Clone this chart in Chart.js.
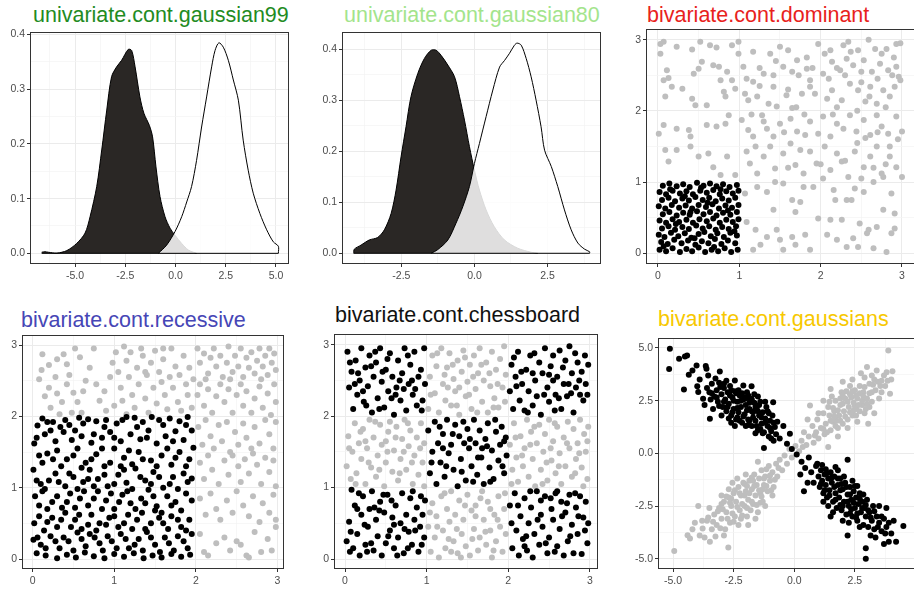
<!DOCTYPE html>
<html>
<head>
<meta charset="utf-8">
<script src="https://cdn.jsdelivr.net/npm/chart.js@4.4.1/dist/chart.umd.min.js"></script>
<style>
  body { margin: 0; width: 914px; height: 589px; overflow: hidden; background: #fff; position: relative;
         font-family: "Liberation Sans", Arial, sans-serif; }
  .title { position: absolute; font-size: 21.5px; line-height: 24px; white-space: nowrap; }
  canvas { position: absolute; }
</style>
</head>
<body>
<div class="title" style="left:33px;top:3px;color:#228b22">univariate.cont.gaussian99</div>
<div class="title" style="left:344px;top:3px;color:#a3e48c">univariate.cont.gaussian80</div>
<div class="title" style="left:647px;top:3px;color:#e8221c">bivariate.cont.dominant</div>
<div class="title" style="left:21px;top:308px;color:#4646b6">bivariate.cont.recessive</div>
<div class="title" style="left:335px;top:303px;color:#111">bivariate.cont.chessboard</div>
<div class="title" style="left:658px;top:307px;color:#f7c800">bivariate.cont.gaussians</div>
<script>
// ── Density curves (x, density) ──────────────────────────────
const g99BlackX = [-6.66,-6.5,-6.33,-5.9,-5.41,-4.92,-4.5,-4.25,-3.92,-3.67,-3.42,-3.18,-2.93,-2.68,-2.35,-2.18,-2.01,-1.77,-1.57,-1.3,-1.14,-0.97,-0.77,-0.52,-0.27,-0.02,0.31,0.64,0.89,1.05];
const g99BlackY = [0.002,0.003,0.002,0.0005,0.005,0.018,0.037,0.067,0.122,0.189,0.262,0.323,0.341,0.353,0.373,0.371,0.341,0.286,0.256,0.234,0.213,0.158,0.104,0.067,0.046,0.033,0.018,0.006,0.002,0];
const g99WhiteX = [-0.85,-0.44,-0.02,0.31,0.56,0.8,1.05,1.3,1.55,1.8,1.97,2.16,2.38,2.63,2.88,3.13,3.37,3.62,3.87,4.2,4.54,4.87,5.12,5.12];
const g99WhiteY = [0,0.015,0.04,0.067,0.094,0.122,0.17,0.231,0.286,0.341,0.371,0.385,0.377,0.353,0.317,0.28,0.207,0.152,0.11,0.073,0.043,0.021,0.013,0];

const g80BlackX = [-4.13,-4.11,-3.88,-3.6,-3.31,-3.08,-2.85,-2.68,-2.51,-2.34,-2.17,-1.94,-1.71,-1.48,-1.31,-1.14,-0.91,-0.68,-0.51,-0.34,-0.17,0,0.17,0.4,0.68,1.03,1.48,1.94,2.17];
const g80BlackY = [0,0.008,0.016,0.026,0.031,0.046,0.078,0.124,0.189,0.248,0.307,0.352,0.382,0.398,0.398,0.388,0.369,0.346,0.307,0.261,0.209,0.163,0.124,0.085,0.052,0.026,0.01,0.002,0];
const g80WhiteX = [-1.48,-1.26,-0.91,-0.63,-0.4,-0.17,0,0.17,0.4,0.63,0.86,1.03,1.2,1.37,1.46,1.6,1.77,1.94,2.11,2.28,2.4,2.63,2.85,3.08,3.31,3.54,3.77,3.94,3.94];
const g80WhiteY = [0,0.007,0.026,0.059,0.091,0.131,0.176,0.215,0.268,0.32,0.365,0.378,0.392,0.408,0.412,0.408,0.382,0.346,0.3,0.248,0.202,0.17,0.131,0.085,0.046,0.02,0.008,0.003,0];

// ── Scatter points, flat x,y pairs ───────────────────────────
const domBlack = [
  0.02,0.05, 0.1,0.03, 0.18,0.07, 0.27,0.02, 0.35,0.06, 0.42,0.03, 0.5,0.08, 0.58,0.02, 0.66,0.05, 0.74,0.03, 0.82,0.07, 0.9,0.02, 0.98,0.05,
  0.04,0.16, 0.12,0.13, 0.2,0.19, 0.29,0.14, 0.37,0.18, 0.46,0.12, 0.54,0.17, 0.62,0.14, 0.7,0.2, 0.78,0.13, 0.86,0.18, 0.95,0.14,
  0.01,0.26, 0.08,0.23, 0.16,0.29, 0.25,0.24, 0.33,0.28, 0.41,0.22, 0.5,0.27, 0.57,0.3, 0.65,0.24, 0.73,0.28, 0.81,0.23, 0.89,0.29, 0.97,0.25,
  0.05,0.35, 0.13,0.38, 0.21,0.33, 0.3,0.37, 0.38,0.34, 0.47,0.39, 0.55,0.35, 0.63,0.38, 0.71,0.33, 0.79,0.37, 0.87,0.34, 0.96,0.38,
  0.02,0.46, 0.1,0.43, 0.18,0.48, 0.26,0.44, 0.35,0.47, 0.43,0.43, 0.51,0.48, 0.6,0.45, 0.68,0.49, 0.76,0.43, 0.84,0.47, 0.92,0.44, 0.99,0.48,
  0.06,0.55, 0.14,0.58, 0.23,0.53, 0.31,0.57, 0.39,0.54, 0.48,0.59, 0.56,0.55, 0.64,0.58, 0.72,0.53, 0.8,0.57, 0.89,0.54, 0.97,0.58,
  0.01,0.66, 0.09,0.63, 0.17,0.68, 0.26,0.64, 0.34,0.67, 0.42,0.63, 0.5,0.68, 0.59,0.65, 0.67,0.69, 0.75,0.63, 0.83,0.67, 0.91,0.64, 0.99,0.68,
  0.05,0.75, 0.13,0.78, 0.21,0.73, 0.3,0.77, 0.38,0.74, 0.46,0.79, 0.55,0.75, 0.63,0.78, 0.71,0.73, 0.79,0.77, 0.87,0.74, 0.95,0.78,
  0.02,0.86, 0.1,0.83, 0.18,0.88, 0.27,0.84, 0.35,0.87, 0.43,0.83, 0.52,0.88, 0.6,0.85, 0.68,0.89, 0.76,0.83, 0.84,0.87, 0.92,0.84, 0.99,0.88,
  0.06,0.95, 0.14,0.98, 0.23,0.94, 0.31,0.97, 0.39,0.93, 0.48,0.99, 0.56,0.95, 0.64,0.98, 0.72,0.94, 0.8,0.97, 0.88,0.93, 0.97,0.96,
  0.07,0.1, 0.22,0.41, 0.45,0.21, 0.61,0.71, 0.86,0.6, 0.33,0.8, 0.15,0.9, 0.53,0.92, 0.94,0.31, 0.69,0.09, 0.4,0.58, 0.77,0.9
];
const domGrey = [
  0.03,2.8, 0.03,2.94, 0.07,2.97, 0.23,2.9, 0.42,2.86, 0.52,2.97, 0.64,2.92, 0.72,2.89, 0.91,2.92, 0.99,2.97, 0.99,2.8, 1.17,2.83, 1.38,2.8, 1.5,2.9, 1.6,2.85, 1.71,2.71, 1.83,2.75, 1.97,2.94, 2.12,2.85, 2.28,2.92, 2.34,2.97, 2.46,2.85, 2.59,3.0, 2.67,2.87, 2.81,2.87, 2.93,2.94, 2.98,2.95,
  0.11,2.57, 0.13,2.46, 0.07,2.43, 0.17,2.34, 0.3,2.31, 0.44,2.52, 0.5,2.59, 0.54,2.69, 0.68,2.64, 0.75,2.62, 0.77,2.43, 0.91,2.43, 0.95,2.31, 1.05,2.62, 1.09,2.45, 1.17,2.41, 1.3,2.52, 1.42,2.5, 1.54,2.62, 1.65,2.55, 1.73,2.5, 1.83,2.59, 1.87,2.43, 2.03,2.52, 2.14,2.69, 2.24,2.57, 2.32,2.73, 2.4,2.64, 2.53,2.71, 2.63,2.55, 2.73,2.66, 2.83,2.57, 2.93,2.62, 2.96,2.48,
  0.09,2.2, 0.42,2.17, 0.46,2.08, 0.6,2.08, 0.81,2.27, 0.83,2.2, 1.07,2.24, 1.11,2.15, 1.22,2.2, 1.36,2.1, 1.42,2.34, 1.46,2.06, 1.58,2.22, 1.65,2.04, 1.77,2.24, 1.87,2.34, 1.93,2.24, 2.08,2.17, 2.14,2.29, 2.26,2.15, 2.36,2.38, 2.46,2.29, 2.55,2.13, 2.61,2.34, 2.69,2.1, 2.77,2.29, 2.85,2.2, 2.91,2.34, 2.98,2.43,
  0.01,1.68, 0.07,1.8, 0.23,1.75, 0.38,1.73, 0.4,1.64, 0.6,1.8, 0.72,1.78, 0.83,1.82, 0.87,1.94, 1.03,1.87, 1.11,1.73, 1.17,1.64, 1.28,1.94, 1.34,1.75, 1.42,1.64, 1.5,1.82, 1.63,1.89, 1.71,1.71, 1.81,1.66, 1.87,1.85, 1.97,1.68, 2.03,1.92, 2.12,1.64, 2.2,1.82, 2.28,1.75, 2.36,1.94, 2.44,1.71, 2.53,1.87, 2.61,1.66, 2.69,1.94, 2.75,1.78, 2.83,1.68, 2.93,1.92, 3.0,1.71,
  0.09,1.45, 0.13,1.29, 0.23,1.45, 0.4,1.5, 0.5,1.36, 0.62,1.4, 0.68,1.21, 0.85,1.36, 0.77,1.1, 0.95,1.1, 1.09,1.43, 1.13,1.26, 1.22,1.12, 1.3,1.36, 1.38,1.5, 1.44,1.19, 1.54,1.4, 1.63,1.54, 1.69,1.24, 1.79,1.12, 1.87,1.43, 1.95,1.26, 2.05,1.5, 2.12,1.17, 2.2,1.4, 2.26,1.29, 2.34,1.07, 2.42,1.43, 2.53,1.21, 2.61,1.36, 2.69,1.5, 2.75,1.12, 2.85,1.36, 2.93,1.21, 3.0,1.07,
  1.07,0.84, 1.22,0.93, 1.34,0.86, 1.44,1.0, 1.54,0.98, 1.65,0.75, 1.79,0.93, 1.91,0.93, 2.03,1.05, 2.16,0.89, 2.32,0.75, 2.42,0.91, 2.53,0.86, 2.65,1.0, 2.77,1.07, 2.87,0.84, 1.42,0.61, 1.69,0.58, 1.75,0.72, 2.18,0.75, 2.38,0.75, 2.77,0.61, 2.91,0.56,
  1.09,0.44, 1.2,0.33, 1.34,0.23, 1.46,0.33, 1.5,0.19, 1.54,0.05, 1.65,0.23, 1.69,0.12, 1.81,0.26, 1.87,0.05, 1.97,0.49, 2.08,0.26, 2.12,0.47, 2.2,0.19, 2.26,0.47, 2.32,0.09, 2.4,0.21, 2.46,0.09, 2.48,0.42, 2.57,0.28, 2.59,0.33, 2.65,0.07, 2.69,0.37, 2.81,0.02, 2.87,0.28, 2.91,0.35, 1.17,0.05, 1.26,0.12,
  2.1,2.45, 2.2,2.05, 2.3,2.5, 2.45,2.0, 2.5,2.4, 2.6,2.2, 2.7,2.45, 2.8,2.05, 2.88,2.5, 2.15,1.95, 2.45,1.55, 2.55,1.62, 2.7,1.7, 2.85,1.5, 2.95,1.6, 2.0,1.25, 2.3,1.3, 2.5,1.05, 2.65,1.2, 2.8,1.25,
  1.6,2.3, 1.7,2.05, 1.8,1.95, 1.55,1.7, 1.25,2.35, 1.3,1.85, 1.2,1.5, 1.15,1.95, 1.6,1.2, 1.75,1.45, 1.9,2.6, 2.05,2.8, 2.2,2.6, 2.37,2.83, 2.5,2.55, 2.75,2.8, 2.9,2.75, 1.45,2.7, 1.25,2.6, 0.85,2.55
];

const recBlack = [
  0.06,1.87, 0.12,1.97, 0.25,1.92, 0.34,1.85, 0.45,1.88, 0.57,1.98, 0.68,1.96, 0.78,1.93, 0.9,1.95, 1.03,1.9, 1.15,1.99, 1.25,1.98, 1.35,1.92, 1.46,1.99, 1.55,1.95, 1.68,1.97, 1.8,1.93, 1.9,1.99,
  0.02,1.62, 0.15,1.75, 0.22,1.8, 0.38,1.78, 0.48,1.67, 0.6,1.72, 0.72,1.63, 0.85,1.7, 0.95,1.78, 1.08,1.65, 1.2,1.75, 1.32,1.68, 1.42,1.8, 1.52,1.62, 1.63,1.72, 1.75,1.79, 1.85,1.67, 1.95,1.8,
  0.08,1.45, 0.18,1.48, 0.3,1.52, 0.42,1.4, 0.55,1.55, 0.65,1.35, 0.78,1.47, 0.88,1.3, 1.0,1.55, 1.12,1.42, 1.22,1.33, 1.3,1.5, 1.45,1.38, 1.58,1.45, 1.7,1.32, 1.8,1.5, 1.92,1.4, 1.97,1.56,
  0.01,1.25, 0.1,1.05, 0.2,1.1, 0.28,1.2, 0.4,1.02, 0.5,1.15, 0.62,1.08, 0.7,1.25, 0.8,1.12, 0.92,1.02, 1.05,1.18, 1.15,1.07, 1.26,1.27, 1.38,1.1, 1.48,1.22, 1.6,1.0, 1.72,1.15, 1.85,1.2, 1.95,1.13,
  0.03,0.88, 0.12,0.95, 0.24,0.8, 0.36,0.72, 0.46,0.92, 0.58,0.85, 0.68,0.75, 0.8,0.95, 0.9,0.82, 1.0,0.7, 1.1,0.9, 1.2,0.78, 1.33,0.85, 1.42,0.97, 1.52,0.74, 1.65,0.88, 1.75,0.8, 1.88,0.92,
  0.08,0.6, 0.18,0.52, 0.3,0.45, 0.4,0.65, 0.52,0.55, 0.6,0.42, 0.72,0.62, 0.82,0.5, 0.94,0.58, 1.05,0.45, 1.17,0.62, 1.28,0.55, 1.38,0.42, 1.5,0.68, 1.6,0.5, 1.7,0.6, 1.82,0.45, 1.92,0.55,
  0.01,0.27, 0.1,0.2, 0.22,0.32, 0.33,0.15, 0.44,0.25, 0.55,0.37, 0.65,0.18, 0.76,0.3, 0.86,0.12, 0.97,0.25, 1.08,0.35, 1.18,0.15, 1.3,0.28, 1.4,0.38, 1.5,0.2, 1.62,0.3, 1.73,0.12, 1.85,0.25, 1.95,0.35,
  0.05,0.08, 0.16,0.05, 0.3,0.01, 0.42,0.06, 0.53,0.02, 0.64,0.09, 0.75,0.04, 0.88,0.01, 1.0,0.07, 1.12,0.03, 1.24,0.08, 1.36,0.01, 1.47,0.05, 1.58,0.02, 1.7,0.07, 1.82,0.03, 1.93,0.06,
  0.05,1.7, 0.18,1.92, 0.28,1.65, 0.4,1.95, 0.52,1.8, 0.62,1.9, 0.75,1.75, 0.88,1.85, 1.0,1.7, 1.1,1.95, 1.28,1.85, 1.4,1.7, 1.6,1.88, 1.72,1.65, 1.88,1.88,
  0.12,1.35, 0.25,1.4, 0.35,1.3, 0.5,1.45, 0.6,1.28, 0.72,1.4, 0.85,1.55, 0.95,1.35, 1.08,1.3, 1.18,1.52, 1.35,1.4, 1.52,1.3, 1.65,1.55, 1.75,1.42, 1.88,1.3,
  0.05,1.1, 0.15,0.98, 0.32,1.08, 0.45,1.2, 0.55,0.98, 0.68,1.12, 0.75,1.02, 0.88,1.18, 1.0,1.05, 1.12,1.25, 1.22,0.98, 1.32,1.15, 1.45,1.05, 1.55,1.15, 1.68,1.05, 1.78,0.98, 1.9,1.08,
  0.08,0.75, 0.18,0.7, 0.3,0.88, 0.42,0.8, 0.52,0.72, 0.63,0.95, 0.75,0.85, 0.85,0.7, 0.96,0.92, 1.06,0.8, 1.16,0.95, 1.26,0.7, 1.38,0.78, 1.48,0.88, 1.58,0.65, 1.7,0.75, 1.82,0.68, 1.95,0.82,
  0.02,0.5, 0.14,0.4, 0.24,0.58, 0.35,0.55, 0.47,0.45, 0.57,0.62, 0.68,0.48, 0.78,0.4, 0.9,0.48, 1.0,0.6, 1.12,0.5, 1.22,0.42, 1.34,0.65, 1.45,0.5, 1.55,0.58, 1.66,0.42, 1.78,0.55, 1.88,0.4,
  0.06,0.3, 0.16,0.15, 0.28,0.25, 0.38,0.3, 0.5,0.12, 0.6,0.28, 0.7,0.35, 0.82,0.22, 0.92,0.32, 1.03,0.15, 1.14,0.28, 1.25,0.2, 1.35,0.12, 1.45,0.3, 1.56,0.1, 1.67,0.22, 1.78,0.32, 1.9,0.15
];
const recGrey = [
  0.12,2.87, 0.11,2.65, 0.2,2.72, 0.28,2.55, 0.3,2.8, 0.38,2.87, 0.42,2.73, 0.45,2.58, 0.52,2.95, 0.58,2.83, 0.2,2.4, 0.15,2.28, 0.22,2.12, 0.3,2.32, 0.36,2.2, 0.42,2.45, 0.5,2.33, 0.55,2.2, 0.6,2.05, 0.65,2.5,
  0.7,2.68, 0.75,2.95, 0.78,2.45, 0.82,2.22, 0.88,2.35, 0.9,2.08, 0.95,2.55, 0.98,2.75, 1.02,2.9, 1.05,2.62, 1.08,2.4, 1.1,2.22, 1.12,2.98, 1.15,2.78, 1.18,2.55, 1.2,2.9, 1.22,2.3, 1.25,2.12, 1.28,2.68, 1.3,2.45,
  1.33,2.95, 1.35,2.85, 1.38,2.25, 1.4,2.58, 1.42,2.05, 1.45,2.75, 1.48,2.4, 1.5,2.92, 1.52,2.18, 1.55,2.62, 1.58,2.48, 1.6,2.8, 1.62,2.3, 1.65,2.1, 1.68,2.55, 1.7,2.95, 1.72,2.4, 1.75,2.7, 1.78,2.2, 1.8,2.58,
  1.82,2.08, 1.85,2.85, 1.88,2.45, 1.9,2.3, 1.92,2.68, 1.95,2.12, 1.97,2.52, 0.62,2.35, 0.48,2.05, 0.33,2.03, 0.08,2.52, 1.0,2.15, 1.6,2.95, 1.15,2.03, 1.38,2.62,
  2.02,2.95, 2.05,2.75, 2.1,2.88, 2.15,2.6, 2.18,2.82, 2.22,2.95, 2.25,2.7, 2.3,2.85, 2.33,2.55, 2.38,2.75, 2.4,2.98, 2.45,2.62, 2.48,2.85, 2.52,2.7, 2.55,2.95, 2.58,2.55, 2.62,2.82, 2.65,2.68, 2.68,2.9, 2.72,2.6,
  2.75,2.78, 2.78,2.95, 2.82,2.7, 2.85,2.85, 2.88,2.58, 2.9,2.95, 2.93,2.75, 2.96,2.88, 2.98,2.65, 2.12,2.52, 2.42,2.52, 2.8,2.52,
  2.02,2.3, 2.05,2.45, 2.1,2.15, 2.15,2.38, 2.2,2.05, 2.25,2.28, 2.3,2.45, 2.35,2.2, 2.4,2.38, 2.45,2.05, 2.5,2.3, 2.55,2.45, 2.58,2.15, 2.62,2.35, 2.68,2.05, 2.72,2.25, 2.78,2.42, 2.82,2.12, 2.88,2.32, 2.92,2.02, 2.96,2.45, 2.98,2.2,
  2.03,1.85, 2.08,1.6, 2.12,1.95, 2.18,1.72, 2.22,1.55, 2.28,1.88, 2.32,1.65, 2.38,1.92, 2.42,1.5, 2.48,1.78, 2.52,1.6, 2.58,1.9, 2.62,1.7, 2.68,1.55, 2.72,1.85, 2.78,1.62, 2.85,1.95, 2.9,1.75, 2.95,1.55, 2.98,1.92,
  2.05,1.35, 2.1,1.12, 2.15,1.45, 2.2,1.25, 2.28,1.05, 2.35,1.38, 2.4,1.18, 2.45,1.45, 2.52,1.3, 2.55,1.08, 2.6,1.4, 2.65,1.2, 2.7,1.48, 2.75,1.32, 2.8,1.05, 2.85,1.42, 2.9,1.22, 2.95,1.38, 2.98,1.02,
  2.05,0.85, 2.12,0.62, 2.18,0.92, 2.25,0.7, 2.3,0.55, 2.38,0.82, 2.45,0.65, 2.5,0.95, 2.58,0.75, 2.65,0.6, 2.7,0.88, 2.78,0.52, 2.82,0.78, 2.9,0.65, 2.95,0.9, 2.98,0.55,
  2.05,0.35, 2.1,0.1, 2.15,0.05, 2.25,0.22, 2.35,0.3, 2.42,0.12, 2.5,0.25, 2.55,0.2, 2.62,0.05, 2.65,0.02, 2.72,0.38, 2.8,0.1, 2.88,0.28, 2.93,0.12, 2.98,0.45
];

const chessBlack = [
  0.02,0.25, 0.05,0.52, 0.08,0.97, 0.1,0.15, 0.12,0.75, 0.15,0.35, 0.18,0.05, 0.2,0.62, 0.22,0.88, 0.25,0.2, 0.28,0.45, 0.3,0.7, 0.33,0.95, 0.35,0.12, 0.38,0.55, 0.4,0.32, 0.43,0.8, 0.45,0.05, 0.48,0.65, 0.5,0.22,
  0.52,0.9, 0.55,0.4, 0.58,0.58, 0.6,0.15, 0.62,0.75, 0.65,0.3, 0.68,0.5, 0.7,0.92, 0.72,0.08, 0.75,0.62, 0.78,0.38, 0.8,0.85, 0.82,0.2, 0.85,0.55, 0.88,0.72, 0.9,0.1, 0.92,0.45, 0.95,0.62, 0.97,0.3, 0.98,0.82, 0.15,0.7, 0.27,0.1, 0.42,0.68, 0.6,0.48, 0.86,0.4,
  0.07,0.38, 0.17,0.92, 0.24,0.48, 0.32,0.22, 0.47,0.9, 0.53,0.32, 0.64,0.05, 0.73,0.42, 0.83,0.95, 0.94,0.2, 0.36,0.72, 0.57,0.82, 0.77,0.15, 0.93,0.88, 0.06,0.1,
  0.03,2.9, 0.05,2.4, 0.08,2.62, 0.1,2.1, 0.13,2.78, 0.15,2.3, 0.18,2.5, 0.2,2.95, 0.23,2.2, 0.25,2.68, 0.28,2.42, 0.3,2.85, 0.33,2.05, 0.35,2.55, 0.38,2.75, 0.4,2.25, 0.43,2.95, 0.45,2.48, 0.48,2.12, 0.5,2.65,
  0.53,2.35, 0.55,2.88, 0.58,2.55, 0.6,2.02, 0.63,2.4, 0.65,2.78, 0.68,2.22, 0.7,2.6, 0.73,2.95, 0.75,2.08, 0.78,2.45, 0.8,2.72, 0.83,2.3, 0.85,2.9, 0.88,2.15, 0.9,2.55, 0.93,2.65, 0.95,2.22, 0.97,2.95, 0.12,2.45, 0.37,2.9, 0.62,2.3, 0.82,2.5,
  0.06,2.75, 0.16,2.6, 0.22,2.35, 0.32,2.7, 0.42,2.1, 0.52,2.8, 0.57,2.25, 0.67,2.5, 0.77,2.85, 0.86,2.38, 0.94,2.08, 0.26,2.15, 0.46,2.62, 0.72,2.38, 0.98,2.45,
  1.02,1.8, 1.04,1.2, 1.07,1.5, 1.1,1.92, 1.12,1.05, 1.14,1.62, 1.17,1.35, 1.2,1.75, 1.22,1.15, 1.25,1.95, 1.27,1.48, 1.3,1.6, 1.33,1.25, 1.35,1.88, 1.38,1.02, 1.4,1.72, 1.42,1.4, 1.45,1.92, 1.48,1.1, 1.52,1.55,
  1.55,1.3, 1.58,1.95, 1.6,1.62, 1.62,1.18, 1.65,1.8, 1.67,1.42, 1.7,1.05, 1.72,1.68, 1.75,1.9, 1.77,1.28, 1.8,1.52, 1.82,1.12, 1.85,1.78, 1.88,1.38, 1.9,1.6, 1.92,1.85, 1.95,1.2, 1.97,1.7, 1.98,1.45, 1.5,1.82, 1.68,1.55,
  1.06,1.35, 1.16,1.85, 1.24,1.3, 1.32,1.75, 1.43,1.22, 1.53,1.68, 1.57,1.08, 1.63,1.42, 1.74,1.58, 1.84,1.95, 1.93,1.3, 1.2,1.55, 1.46,1.62, 1.78,1.08, 1.95,1.65,
  2.02,0.75, 2.05,0.15, 2.08,0.92, 2.1,0.4, 2.13,0.05, 2.15,0.6, 2.18,0.28, 2.2,0.85, 2.23,0.12, 2.25,0.5, 2.28,0.72, 2.3,0.02, 2.32,0.35, 2.35,0.95, 2.38,0.2, 2.4,0.62, 2.42,0.45, 2.45,0.88, 2.48,0.08, 2.5,0.3,
  2.53,0.7, 2.55,0.55, 2.58,0.92, 2.6,0.18, 2.63,0.42, 2.65,0.8, 2.68,0.05, 2.7,0.65, 2.73,0.25, 2.75,0.9, 2.78,0.48, 2.8,0.08, 2.83,0.72, 2.85,0.35, 2.88,0.88, 2.9,0.07, 2.92,0.58, 2.95,0.8, 2.97,0.22, 2.98,0.5, 2.4,0.82, 2.6,0.95,
  2.04,0.5, 2.12,0.75, 2.22,0.32, 2.27,0.95, 2.36,0.55, 2.46,0.22, 2.52,0.85, 2.57,0.1, 2.66,0.6, 2.76,0.32, 2.82,0.92, 2.86,0.6, 2.94,0.4, 2.2,0.18, 2.72,0.78,
  2.02,2.35, 2.04,2.72, 2.06,2.1, 2.09,2.55, 2.12,2.9, 2.14,2.22, 2.17,2.45, 2.2,2.08, 2.22,2.65, 2.25,2.35, 2.27,2.85, 2.3,2.15, 2.33,2.5, 2.35,2.28, 2.38,2.75, 2.4,2.02, 2.42,2.6, 2.45,2.95, 2.48,2.4, 2.5,2.2,
  2.52,2.7, 2.55,2.85, 2.58,2.3, 2.6,2.55, 2.63,2.92, 2.65,2.1, 2.68,2.45, 2.7,2.78, 2.72,2.28, 2.75,2.98, 2.78,2.6, 2.8,2.05, 2.83,2.4, 2.85,2.75, 2.88,2.3, 2.9,2.62, 2.92,2.22, 2.95,2.45, 2.97,2.3, 2.98,2.72, 2.55,2.5, 2.3,2.6,
  2.07,2.82, 2.16,2.62, 2.24,2.05, 2.32,2.88, 2.44,2.3, 2.5,2.58, 2.62,2.25, 2.67,2.68, 2.74,2.45, 2.82,2.88, 2.87,2.5, 2.94,2.85, 2.1,2.42, 2.57,2.08, 2.77,2.32
];
const chessGrey = [
  1.02,0.45, 1.05,0.1, 1.07,0.78, 1.1,0.3, 1.12,0.6, 1.15,0.02, 1.18,0.88, 1.2,0.4, 1.23,0.15, 1.25,0.7, 1.28,0.52, 1.3,0.95, 1.33,0.25, 1.35,0.62, 1.38,0.08, 1.4,0.82, 1.43,0.35, 1.45,0.55, 1.48,0.18, 1.5,0.9,
  1.53,0.05, 1.55,0.68, 1.58,0.42, 1.6,0.75, 1.63,0.12, 1.65,0.3, 1.68,0.95, 1.7,0.55, 1.73,0.2, 1.75,0.8, 1.78,0.4, 1.8,0.02, 1.83,0.62, 1.85,0.25, 1.88,0.88, 1.9,0.45, 1.93,0.1, 1.95,0.7, 1.97,0.35, 1.6,0.6,
  1.04,0.65, 1.13,0.45, 1.22,0.92, 1.3,0.1, 1.37,0.42, 1.47,0.75, 1.56,0.28, 1.66,0.85, 1.72,0.38, 1.82,0.12, 1.87,0.55, 1.96,0.92, 1.42,0.02, 1.78,0.7, 1.27,0.28,
  0.02,1.3, 0.04,1.72, 0.07,1.12, 0.09,1.5, 0.12,1.9, 0.14,1.2, 0.17,1.62, 0.2,1.4, 0.22,1.82, 0.25,1.05, 0.27,1.55, 0.3,1.95, 0.32,1.28, 0.35,1.7, 0.38,1.15, 0.4,1.45, 0.43,1.88, 0.45,1.6, 0.48,1.02, 0.5,1.35,
  0.53,1.78, 0.55,1.92, 0.58,1.22, 0.6,1.52, 0.63,1.85, 0.65,1.1, 0.68,1.4, 0.7,1.68, 0.73,1.95, 0.75,1.25, 0.78,1.58, 0.8,1.8, 0.83,1.05, 0.85,1.45, 0.88,1.7, 0.9,1.18, 0.93,1.9, 0.95,1.35, 0.97,1.62, 0.5,1.65,
  0.05,1.55, 0.13,1.05, 0.19,1.78, 0.29,1.35, 0.37,1.92, 0.42,1.25, 0.52,1.5, 0.62,1.7, 0.67,1.2, 0.77,1.9, 0.82,1.35, 0.92,1.55, 0.97,1.02, 0.25,1.65, 0.72,1.5,
  2.02,1.6, 2.05,1.25, 2.07,1.9, 2.1,1.42, 2.12,1.08, 2.15,1.72, 2.18,1.3, 2.2,1.55, 2.23,1.95, 2.25,1.15, 2.28,1.78, 2.3,1.4, 2.33,1.02, 2.35,1.62, 2.38,1.88, 2.4,1.25, 2.43,1.5, 2.45,1.75, 2.48,1.1, 2.5,1.95,
  2.53,1.38, 2.55,1.65, 2.58,1.2, 2.6,1.85, 2.63,1.48, 2.65,1.05, 2.68,1.7, 2.7,1.3, 2.73,1.92, 2.75,1.55, 2.78,1.15, 2.8,1.82, 2.83,1.4, 2.85,1.62, 2.88,1.95, 2.9,1.28, 2.93,1.75, 2.95,1.5, 2.97,1.12, 2.98,1.85,
  2.04,1.05, 2.09,1.7, 2.17,1.45, 2.27,1.6, 2.32,1.85, 2.42,1.05, 2.52,1.55, 2.57,1.9, 2.62,1.3, 2.72,1.62, 2.82,1.2, 2.87,1.48, 2.92,1.02, 2.97,1.65, 2.47,1.35,
  1.02,2.1, 1.04,2.55, 1.07,2.85, 1.1,2.32, 1.12,2.7, 1.15,2.05, 1.18,2.95, 1.2,2.45, 1.23,2.22, 1.25,2.68, 1.28,2.88, 1.3,2.15, 1.33,2.52, 1.35,2.35, 1.38,2.78, 1.4,2.02, 1.43,2.62, 1.45,2.92, 1.48,2.28, 1.5,2.48,
  1.53,2.72, 1.55,2.1, 1.58,2.85, 1.6,2.38, 1.63,2.6, 1.65,2.95, 1.68,2.2, 1.7,2.5, 1.73,2.75, 1.75,2.05, 1.78,2.42, 1.8,2.9, 1.83,2.25, 1.85,2.65, 1.88,2.12, 1.9,2.8, 1.93,2.4, 1.95,2.98, 1.97,2.58, 1.4,2.4,
  1.05,2.3, 1.13,2.88, 1.22,2.58, 1.32,2.72, 1.37,2.15, 1.47,2.82, 1.52,2.3, 1.62,2.05, 1.67,2.72, 1.77,2.6, 1.82,2.12, 1.87,2.45, 1.96,2.2, 1.57,2.55, 1.26,2.4
];

const gaussBlack = [
  -5.13,4.96, -5.16,4.0, -4.75,4.49, -4.51,4.6, -4.42,4.64, -4.55,3.03, -4.35,3.73, -4.2,3.93, -4.03,4.17, -3.65,4.14, -3.62,4.01, -4.0,3.19, -3.96,2.91, -3.76,2.59, -3.48,1.64, -3.07,3.89, -2.45,3.46, -2.1,3.22, -1.76,3.19, -0.87,2.43,
  -1.25,0.25, -0.18,0.93, -0.45,1.3, -0.6,0.7, -0.3,0.45, -0.1,0.2, 0.1,-0.05,
  -3.6,3.1, -3.5,2.9, -3.4,3.3, -3.3,2.7, -3.2,3.0, -3.15,2.45, -3.1,3.35, -3.0,2.8, -2.95,2.2, -2.9,3.1, -2.85,2.55, -2.8,2.0, -2.75,2.9, -2.7,2.35, -2.65,3.2, -2.6,1.8, -2.55,2.65, -2.5,2.1, -2.45,2.95, -2.4,1.6,
  -2.35,2.45, -2.3,1.95, -2.25,2.75, -2.2,2.2, -2.15,1.45, -2.1,2.55, -2.05,1.85, -2.0,2.3, -1.95,2.9, -1.9,1.6, -1.85,2.1, -1.8,2.6, -1.75,1.3, -1.7,1.95, -1.65,2.4, -1.6,1.55, -1.55,2.15, -1.5,1.1, -1.45,1.8, -1.4,2.45,
  -1.35,1.4, -1.3,1.95, -1.25,1.0, -1.2,1.65, -1.15,2.2, -1.1,1.3, -1.05,0.8, -1.0,1.55, -0.95,1.05, -0.9,1.8, -0.85,0.6, -0.8,1.25, -0.75,0.9, -0.7,1.5, -3.35,2.1, -3.0,1.8, -2.6,1.45, -2.0,1.3, -1.6,0.95, -2.8,3.45,
  -2.3,3.0, -1.9,2.75, -1.5,2.7, -1.2,2.45, -3.25,3.55, -2.7,1.65, -2.35,1.7, -1.75,2.0, -2.15,2.85, -2.5,2.5, -1.85,1.55, -1.4,1.15, -1.05,1.9, -3.7,2.3, -3.9,3.5, -3.55,3.7,
  -3.45,2.55, -3.2,2.65, -3.05,3.15, -2.9,2.45, -2.75,2.2, -2.65,2.75, -2.55,1.95, -2.4,2.85, -2.35,2.15, -2.25,1.55, -2.2,2.5, -2.1,1.75, -2.05,2.65, -1.95,2.05, -1.9,1.35, -1.85,2.4, -1.7,1.7, -1.65,2.8,
  -1.55,1.3, -1.5,2.0, -1.45,2.3, -1.35,1.7, -1.3,0.95, -1.2,1.45, -1.1,2.0, -1.0,1.2, -0.95,0.7, -0.85,1.45, -2.6,3.0, -3.1,2.25, -2.0,2.6, -1.6,2.2, -2.45,1.3, -1.75,2.55, -2.9,3.3, -3.4,2.85,
  0.3,-0.4, 0.45,-0.7, 0.6,-0.2, 0.7,-0.9, 0.9,-0.6, 0.25,-1.0, 0.55,-1.4, 0.4,-1.8, 2.2,-0.3, 1.7,-0.65, 4.5,-3.45, 4.2,-4.2, 3.9,-4.2, 3.7,-4.3, 2.95,-4.5, 2.95,-5.0, 2.2,-3.9, 1.5,-3.0, 3.8,-2.6, 3.5,-2.5,
  1.0,-1.1, 1.05,-1.6, 1.1,-0.8, 1.15,-1.3, 1.2,-1.9, 1.25,-1.0, 1.3,-1.5, 1.35,-2.1, 1.4,-1.2, 1.45,-1.75, 1.5,-0.9, 1.55,-1.4, 1.6,-2.3, 1.65,-1.1, 1.7,-1.9, 1.75,-2.6, 1.8,-1.5, 1.85,-2.1, 1.9,-1.2, 1.95,-2.7,
  2.0,-1.7, 2.05,-2.3, 2.1,-1.4, 2.15,-2.9, 2.2,-1.95, 2.25,-2.5, 2.3,-1.6, 2.35,-2.2, 2.4,-3.0, 2.45,-1.8, 2.5,-2.6, 2.55,-2.1, 2.6,-3.2, 2.65,-2.4, 2.7,-1.9, 2.75,-2.8, 2.8,-2.3, 2.85,-3.4, 2.9,-2.6, 2.95,-3.0,
  3.0,-2.2, 3.05,-3.5, 3.1,-2.8, 3.2,-3.2, 3.25,-2.5, 3.3,-3.6, 3.4,-3.0, 3.5,-3.3, 3.6,-3.7, 3.7,-3.1, 3.8,-3.5, 4.0,-3.8, 4.1,-3.2, 1.3,-0.75, 1.8,-0.8, 2.4,-1.3, 1.2,-2.3, 1.6,-2.8, 2.0,-3.2, 2.7,-3.5,
  3.15,-3.9, 0.8,-1.4, 0.95,-0.5, 2.3,-2.85, 1.9,-2.45, 2.6,-1.55,
  1.1,-1.45, 1.25,-1.75, 1.35,-0.95, 1.45,-2.0, 1.55,-1.15, 1.65,-1.6, 1.7,-2.2, 1.8,-1.2, 1.9,-1.75, 2.0,-2.5, 2.05,-1.1, 2.15,-1.6, 2.2,-2.3, 2.3,-1.95, 2.35,-2.65, 2.45,-2.35, 2.5,-1.55, 2.6,-2.85,
  2.7,-2.15, 2.8,-2.6, 2.85,-1.95, 2.95,-2.45, 3.05,-2.7, 3.15,-3.05, 3.3,-2.75, 3.45,-3.5, 3.6,-3.0, 3.75,-3.8, 3.9,-3.3, 2.55,-3.05, 1.4,-2.5, 1.95,-1.45, 2.25,-3.3, 3.35,-4.0, 1.15,-0.55
];
const gaussGrey = [
  -4.95,-4.63, -4.4,-3.89, -4.3,-4.04, -3.96,-2.5, -3.78,-3.57, -3.48,-4.2, -2.72,-4.47, -4.1,-3.3, -3.9,-3.9, -3.7,-4.0, -3.6,-3.2, -3.4,-3.6, -3.3,-2.9, -3.2,-3.4, -3.1,-2.6, -3.0,-3.1, -2.9,-2.3, -2.85,-3.6, -2.8,-2.8, -2.7,-2.1,
  -2.65,-3.3, -2.6,-2.5, -2.5,-1.9, -2.45,-3.0, -2.4,-2.3, -2.3,-1.6, -2.25,-2.7, -2.2,-2.0, -2.1,-1.4, -2.05,-2.5, -2.0,-1.8, -1.95,-3.0, -1.9,-2.2, -1.85,-1.3, -1.8,-2.7, -1.75,-1.7, -1.7,-2.4, -1.65,-1.0, -1.6,-2.0, -1.55,-1.5,
  -1.5,-2.8, -1.45,-1.2, -1.4,-1.9, -1.35,-0.8, -1.3,-2.3, -1.25,-1.5, -1.2,-1.1, -1.1,-1.8, -1.05,-0.6, -1.0,-1.3, -0.9,-0.9, -0.85,-1.6, -0.75,-0.5, -0.7,-1.1, -0.6,-0.3, -0.5,-0.8, -0.4,-0.1, -0.3,-0.5, -0.2,0.2, -0.1,-0.2,
  0.05,0.35, -3.5,-2.6, -3.0,-2.0, -2.55,-1.4, -2.0,-1.0, -1.5,-0.4, -2.9,-3.9, -2.3,-3.4, -1.9,-3.4, -1.2,-2.5, -0.9,-2.0, -2.7,-1.7, -2.35,-1.2, -1.75,-1.15, -1.6,-3.1, -3.25,-3.95, -2.15,-2.95, -1.4,-2.35, -2.05,-1.45, -2.6,-2.15, -1.15,-0.75,
  -3.55,-3.05, -3.35,-3.25, -3.15,-2.75, -3.05,-3.55, -2.95,-2.65, -2.75,-3.1, -2.65,-2.35, -2.55,-2.85, -2.45,-1.75, -2.35,-2.55, -2.25,-1.9, -2.15,-2.4, -2.05,-2.0, -1.95,-2.6, -1.85,-1.9, -1.75,-2.3, -1.65,-1.55,
  -1.55,-2.45, -1.45,-1.75, -1.35,-2.05, -1.25,-1.2, -1.15,-1.55, -1.0,-1.05, -0.95,-1.75, -0.8,-1.25, -0.65,-0.7, -2.8,-2.05, -2.2,-3.1, -1.7,-1.3, -3.0,-2.4, -2.5,-3.25, -1.95,-1.55, -1.3,-1.7, -3.8,-3.2, -4.2,-3.6,
  3.88,4.88, 3.4,3.93, 3.81,3.85, 3.95,2.83, 3.05,1.41, 1.4,0.3, 0.65,2.27, 4.0,3.5, 3.7,3.7, 3.55,3.2, 3.3,3.5, 3.2,2.9, 3.1,3.3, 3.0,2.6, 2.9,3.6, 2.85,2.9, 2.8,2.3, 2.7,3.2, 2.6,2.6, 2.55,2.1,
  2.5,3.0, 2.45,2.4, 2.4,1.8, 2.3,2.8, 2.25,2.2, 2.2,1.6, 2.1,2.6, 2.05,2.0, 2.0,1.4, 1.95,2.9, 1.9,2.3, 1.85,1.8, 1.8,1.2, 1.7,2.5, 1.65,2.0, 1.6,1.5, 1.55,2.7, 1.5,1.1, 1.45,1.8, 1.4,2.2,
  1.3,1.4, 1.25,0.9, 1.2,1.9, 1.1,1.2, 1.0,0.7, 0.95,1.6, 0.9,1.0, 0.8,0.5, 0.75,1.3, 0.6,0.8, 0.5,0.4, 0.4,1.0, 0.3,0.6, 0.2,0.1, 0.35,0.3, 0.55,1.6, 1.0,1.9, 1.5,3.05, 2.0,3.4, 2.4,3.5,
  2.75,3.8, 3.2,3.7, 3.5,2.6, 3.3,1.9, 2.9,1.9, 2.6,1.5, 2.2,1.2, 1.8,0.8, 3.0,4.1, 2.3,3.2, 1.9,2.6, 2.7,2.0, 3.6,2.9, 4.05,3.9, 1.2,2.5, 2.15,2.95, 2.5,2.25, 1.75,1.55, 3.1,2.2,
  1.35,1.0, 1.5,1.55, 1.6,2.15, 1.7,1.3, 1.8,2.05, 1.9,1.55, 2.0,2.35, 2.1,1.75, 2.2,2.45, 2.3,1.95, 2.35,2.65, 2.45,2.05, 2.55,2.75, 2.65,2.3, 2.7,2.85, 2.8,2.5, 2.9,3.15, 3.0,2.35,
  3.1,2.85, 3.2,2.45, 3.35,3.0, 3.45,3.4, 3.6,3.45, 3.75,3.2, 2.0,2.75, 1.65,1.75, 2.4,2.95, 2.85,2.7, 1.2,1.15, 0.85,0.85, 2.55,1.8, 3.25,3.25, 1.45,2.45, 3.85,3.45, 2.95,2.1
];

// ── Axis ticks ───────────────────────────────────────────────
const densMajorY = [0, 0.1, 0.2, 0.3, 0.4];
const densMinorY = [0.05, 0.15, 0.25, 0.35];
const g99MajorX = [-5, -2.5, 0, 2.5, 5];
const g99MinorX = [-6.25, -3.75, -1.25, 1.25, 3.75];
const g80MajorX = [-2.5, 0, 2.5];
const g80MinorX = [-3.75, -1.25, 1.25, 3.75];
const unitMajor = [0, 1, 2, 3];
const unitMinor = [0.5, 1.5, 2.5];
const gaussMajorX = [-5, -2.5, 0, 2.5];
const gaussMajorY = [-5, -2.5, 0, 2.5, 5];
const gaussMinor = [-3.75, -1.25, 1.25, 3.75];

// ── Helpers ──────────────────────────────────────────────────
const FONT = '"Liberation Sans", Arial, sans-serif';
const xy = (xs, ys) => xs.map((x, i) => ({ x, y: ys[i] }));
const pairs = a => { const out = []; for (let i = 0; i < a.length; i += 2) out.push({ x: a[i], y: a[i + 1] }); return out; };
const fix1 = v => v.toFixed(1);
const whole = v => String(v);

const frame = {
  id: 'frame',
  afterDraw(chart) {
    const a = chart.chartArea, c = chart.ctx;
    c.save();
    c.strokeStyle = '#333333';
    c.lineWidth = 1;
    c.strokeRect(Math.round(a.left) + 0.5, Math.round(a.top) + 0.5, Math.round(a.right - a.left) - 1, Math.round(a.bottom - a.top) - 1);
    c.restore();
  }
};

function axis(pos, min, max, major, minor, fmt, size) {
  const list = major.map(v => ({ value: v, isMajor: true }))
    .concat(minor.map(v => ({ value: v, isMajor: false })))
    .sort((a, b) => a.value - b.value);
  const isMaj = ctx => ctx.tick && ctx.tick.isMajor;
  return {
    type: 'linear', position: pos, min, max,
    afterBuildTicks: s => { s.ticks = list.map(t => ({ ...t })); },
    afterFit: s => { if (pos === 'left') s.width = size; else s.height = size; },
    grid: {
      color: ctx => isMaj(ctx) ? '#ebebeb' : '#f4f4f4',
      lineWidth: ctx => isMaj(ctx) ? 1 : 0.7,
      tickColor: ctx => isMaj(ctx) ? '#333333' : 'rgba(0,0,0,0)',
      tickLength: 3, drawTicks: true
    },
    border: { display: false },
    ticks: {
      autoSkip: false, maxRotation: 0, padding: pos === 'left' ? 2 : 3,
      color: '#4d4d4d', font: { size: 10.5, family: FONT },
      callback: (v, i, ts) => ts[i].isMajor ? fmt(v) : ''
    }
  };
}

function panel(box, xs, ys, datasets, type) {
  const yw = 40, xh = 24, padT = 8, padR = 8;
  const c = document.createElement('canvas');
  c.width = box[2] - box[0] + yw + padR;
  c.height = box[3] - box[1] + padT + xh;
  c.style.left = (box[0] - yw) + 'px';
  c.style.top = (box[1] - padT) + 'px';
  document.body.appendChild(c);
  new Chart(c.getContext('2d'), {
    type,
    data: { datasets },
    options: {
      responsive: false, animation: false, events: [],
      layout: { padding: { top: padT, right: padR, left: 0, bottom: 0 } },
      plugins: { legend: { display: false }, tooltip: { enabled: false } },
      scales: { x: axis('bottom', ...xs, xh), y: axis('left', ...ys, yw) }
    },
    plugins: [frame]
  });
}

function densities(blackX, blackY, whiteX, whiteY) {
  return [
    { data: xy(whiteX, whiteY), borderColor: '#000', borderWidth: 1, backgroundColor: 'rgba(255,255,255,0.85)',
      fill: 'origin', pointRadius: 0, tension: 0.3, order: 1 },
    { data: xy(blackX, blackY), borderColor: '#000', borderWidth: 1, backgroundColor: '#2a2725',
      fill: 'origin', pointRadius: 0, tension: 0.3, order: 2 },
    { data: [{ x: blackX[0], y: 0 }, { x: whiteX[whiteX.length - 1], y: 0 }], borderColor: '#000', borderWidth: 1,
      fill: false, pointRadius: 0, order: 0 }
  ];
}

function dots(black, grey) {
  return [
    { data: pairs(black), pointRadius: 3, pointBorderWidth: 0, pointBackgroundColor: '#000', backgroundColor: '#000', order: 0 },
    { data: pairs(grey), pointRadius: 3, pointBorderWidth: 0, pointBackgroundColor: '#bebebe', backgroundColor: '#bebebe', order: 1 }
  ];
}

// ── Panels ───────────────────────────────────────────────────
panel([30, 32, 289, 264], [-7.24, 5.65, g99MajorX, g99MinorX, fix1], [-0.0195, 0.4042, densMajorY, densMinorY, fix1],
  densities(g99BlackX, g99BlackY, g99WhiteX, g99WhiteY), 'line');
panel([342, 32, 601, 264], [-4.53, 4.33, g80MajorX, g80MinorX, fix1], [-0.021, 0.4332, densMajorY, densMinorY, fix1],
  densities(g80BlackX, g80BlackY, g80WhiteX, g80WhiteY), 'line');
panel([646, 29, 915, 264], [-0.147, 3.16, unitMajor, unitMinor, whole], [-0.15, 3.145, unitMajor, unitMinor, whole],
  dots(domBlack, domGrey), 'scatter');
panel([22, 335, 284, 569], [-0.13, 3.08, unitMajor, unitMinor, whole], [-0.14, 3.136, unitMajor, unitMinor, whole],
  dots(recBlack, recGrey), 'scatter');
panel([334, 334, 598, 569], [-0.135, 3.1, unitMajor, unitMinor, whole], [-0.14, 3.146, unitMajor, unitMinor, whole],
  dots(chessBlack, chessGrey), 'scatter');
panel([658, 338, 915, 569], [-5.62, 4.98, gaussMajorX, gaussMinor, fix1], [-5.49, 5.46, gaussMajorY, gaussMinor, fix1],
  dots(gaussBlack, gaussGrey), 'scatter');
</script>
</body>
</html>
